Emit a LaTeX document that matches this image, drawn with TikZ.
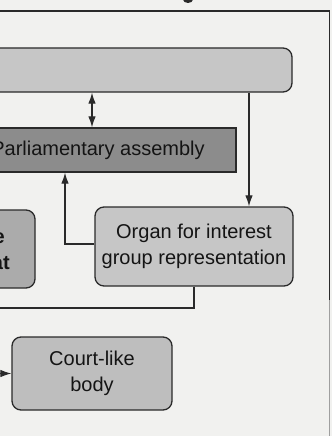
\documentclass[tikz,border=0pt]{standalone}
\usepackage{fontspec}
\setmainfont{Liberation Sans}
\usetikzlibrary{arrows.meta}
\definecolor{pagebg}{HTML}{F1F1EF}
\definecolor{inkc}{HTML}{2A2A2A}
\definecolor{lightbox}{HTML}{C6C6C6}
\definecolor{midbox}{HTML}{ABABAB}
\definecolor{darkbox}{HTML}{8C8C8C}
\definecolor{courtbox}{HTML}{BEBEBE}
\tikzset{
  boxbase/.style={draw=inkc, line width=1.3pt, inner sep=0pt, align=center,
    font=\fontsize{20}{25.7}\selectfont, text=black!92},
  roundbox/.style={boxbase, rounded corners=9pt},
  squarebox/.style={boxbase},
  conn/.style={draw=inkc, line width=1.1pt},
  framel/.style={draw=inkc, line width=1.4pt},
  tip/.style={-{Latex[length=11pt,width=7.5pt]}},
  dbltip/.style={{Latex[length=11pt,width=7.5pt]}-{Latex[length=11pt,width=7.5pt]}}
}
\begin{document}
\begin{tikzpicture}[x=1pt,y=-1pt]
\useasboundingbox (0,0) rectangle (332,436);
\fill[pagebg] (0,0) rectangle (332,436);
\begin{scope}
\clip (0,0) rectangle (332,436);
% remains of heading glyph
\fill[inkc] (188,-0.5) ellipse [x radius=5, y radius=3.5];
% boxes
\node[roundbox, fill=lightbox, minimum width=312pt, minimum height=44pt] (top) at (136,70) {};
\node[squarebox, fill=darkbox, minimum width=276pt, minimum height=44pt] (par) at (98,150) {Parliamentary assembly};
\node[roundbox, fill=midbox, minimum width=154pt, minimum height=78pt, font=\fontsize{20}{25.7}\selectfont\bfseries] (exe) at (-42,249) {Executive\\Secretariat};
\node[roundbox, fill=lightbox, minimum width=198pt, minimum height=79pt] (organ) at (194,246.5) {Organ for interest\\group representation};
\node[roundbox, fill=courtbox, minimum width=160pt, minimum height=73pt] (court) at (92,373.5) {Court-like\\body};
% helper coordinates
\coordinate (ax) at (92,0);
\coordinate (bx) at (249,0);
\coordinate (cx) at (65,0);
\coordinate (lend) at (-5,308);
\coordinate (cin) at (-5,373.5);
% connectors
\draw[conn, dbltip] (top.south -| ax) -- (par.north -| ax);
\draw[conn, tip] (top.south -| bx) -- (organ.north -| bx);
\draw[conn, tip] ([yshift=2.5pt]organ.west) -| (par.south -| cx);
\draw[conn] (organ.south) |- (lend);
\draw[conn, tip] (cin) -- (court.west);
\end{scope}
% frame of the figure
\coordinate (fa) at (0,11);
\coordinate (fb) at (329.5,11);
\coordinate (fc) at (329.5,300);
\coordinate (fd) at (329.5,436);
\draw[framel] (fa) -- (fb);
\draw[framel] (fb) -- (fc);
\draw[draw=inkc!45, line width=1pt] (fc) -- (fd);
\end{tikzpicture}
\end{document}
